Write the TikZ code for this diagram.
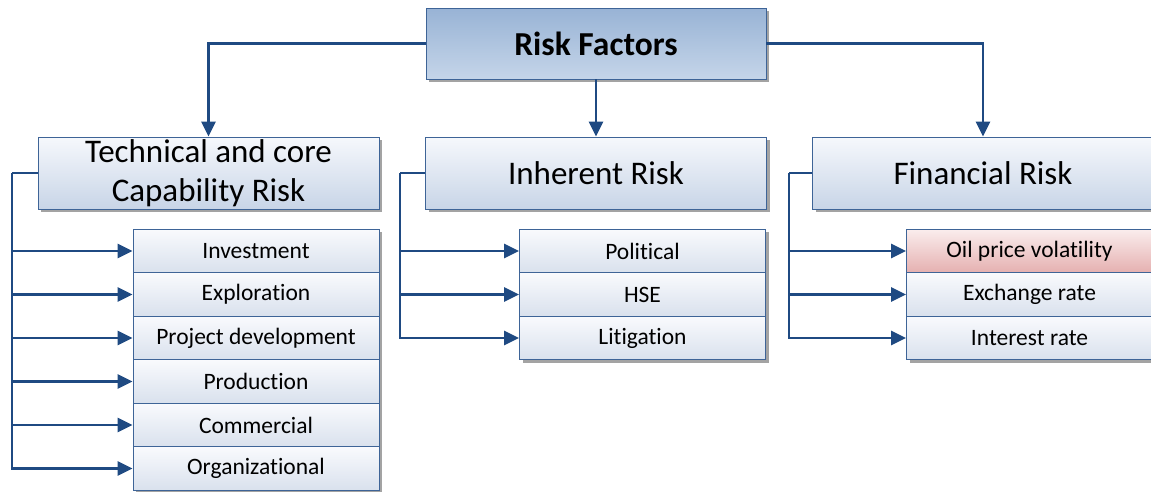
\documentclass[tikz,border=0pt]{standalone}
\usepackage{fontspec}
\setmainfont{Carlito}[Ligatures=NoCommon]
\usetikzlibrary{arrows.meta,shadows}
\definecolor{bordc}{HTML}{3E6497}
\definecolor{connc}{HTML}{1F4A82}
\definecolor{shadc}{HTML}{A3A3A3}
\definecolor{cTopA}{HTML}{98B3D5}
\definecolor{cTopB}{HTML}{C5D5E9}
\definecolor{cMidA}{HTML}{F6F8FC}
\definecolor{cMidB}{HTML}{C8D5E7}
\definecolor{cSubA}{HTML}{F9FAFD}
\definecolor{cSubB}{HTML}{D9E1ED}
\definecolor{cHotA}{HTML}{FAEDED}
\definecolor{cHotB}{HTML}{E5B0B0}
\tikzset{
  basebox/.style={draw=bordc, line width=0.9pt, inner sep=0pt, align=center, text=black,
    drop shadow={shadow xshift=3pt, shadow yshift=-3pt, fill=shadc, opacity=1}},
  topbox/.style={basebox, top color=cTopA, bottom color=cTopB,
    minimum width=340pt, minimum height=71pt, font=\fontsize{33.5}{40}\selectfont\bfseries},
  midbox/.style={basebox, top color=cMidA, bottom color=cMidB,
    minimum width=341pt, minimum height=72pt, font=\fontsize{33}{39}\selectfont},
  subbox/.style={basebox, top color=cSubA, bottom color=cSubB,
    minimum width=246pt, minimum height=43.5pt, font=\fontsize{23.5}{28}\selectfont},
  hotbox/.style={subbox, top color=cHotA, bottom color=cHotB},
  conn/.style={draw=connc, line width=2.6pt, -{Triangle[length=15pt,width=14pt]}},
  connline/.style={draw=connc, line width=2.6pt},
}
\begin{document}
\begin{tikzpicture}[x=1pt,y=-1pt]
\useasboundingbox[fill=white] (0,0) rectangle (1151,491);
% top
\node[topbox] (rf) at (596,43.5) {Risk Factors};
% level 2
\node[midbox] (tc) at (208.5,173) {Technical and core\\Capability Risk};
\node[midbox] (ih) at (596,173) {Inherent Risk};
\node[midbox] (fr) at (983,173) {Financial Risk};
% top connectors
\draw[conn] (rf.west) -| (tc.north);
\draw[conn] (rf.south) -- (ih.north);
\draw[conn] (rf.east) -| (fr.north);
% left subs
\node[subbox] (s1) at (256,251) {Investment};
\node[subbox] (s2) at (256,294.5) {Exploration};
\node[subbox] (s3) at (256,338) {Project development};
\node[subbox] (s4) at (256,381.5) {Production};
\node[subbox] (s5) at (256,425) {Commercial};
\node[subbox] (s6) at (256,468.5) {Organizational};
% middle subs
\node[subbox] (m1) at (642.5,251) {Political};
\node[subbox] (m2) at (642.5,294.5) {HSE};
\node[subbox] (m3) at (642.5,338) {Litigation};
% right subs
\node[hotbox] (r1) at (1029.5,251) {Oil price volatility};
\node[subbox] (r2) at (1029.5,294.5) {Exchange rate};
\node[subbox] (r3) at (1029.5,338) {Interest rate};
% branch points
\coordinate (tcl) at (12,173);
\coordinate (ihl) at (400,173);
\coordinate (frl) at (789,173);
\draw[connline] (tc.west) -- (tcl);
\draw[connline] (ih.west) -- (ihl);
\draw[connline] (fr.west) -- (frl);
\foreach \s in {s1,s2,s3,s4,s5,s6} \draw[conn] (tcl) |- (\s.west);
\foreach \s in {m1,m2,m3} \draw[conn] (ihl) |- (\s.west);
\foreach \s in {r1,r2,r3} \draw[conn] (frl) |- (\s.west);
\end{tikzpicture}
\end{document}
